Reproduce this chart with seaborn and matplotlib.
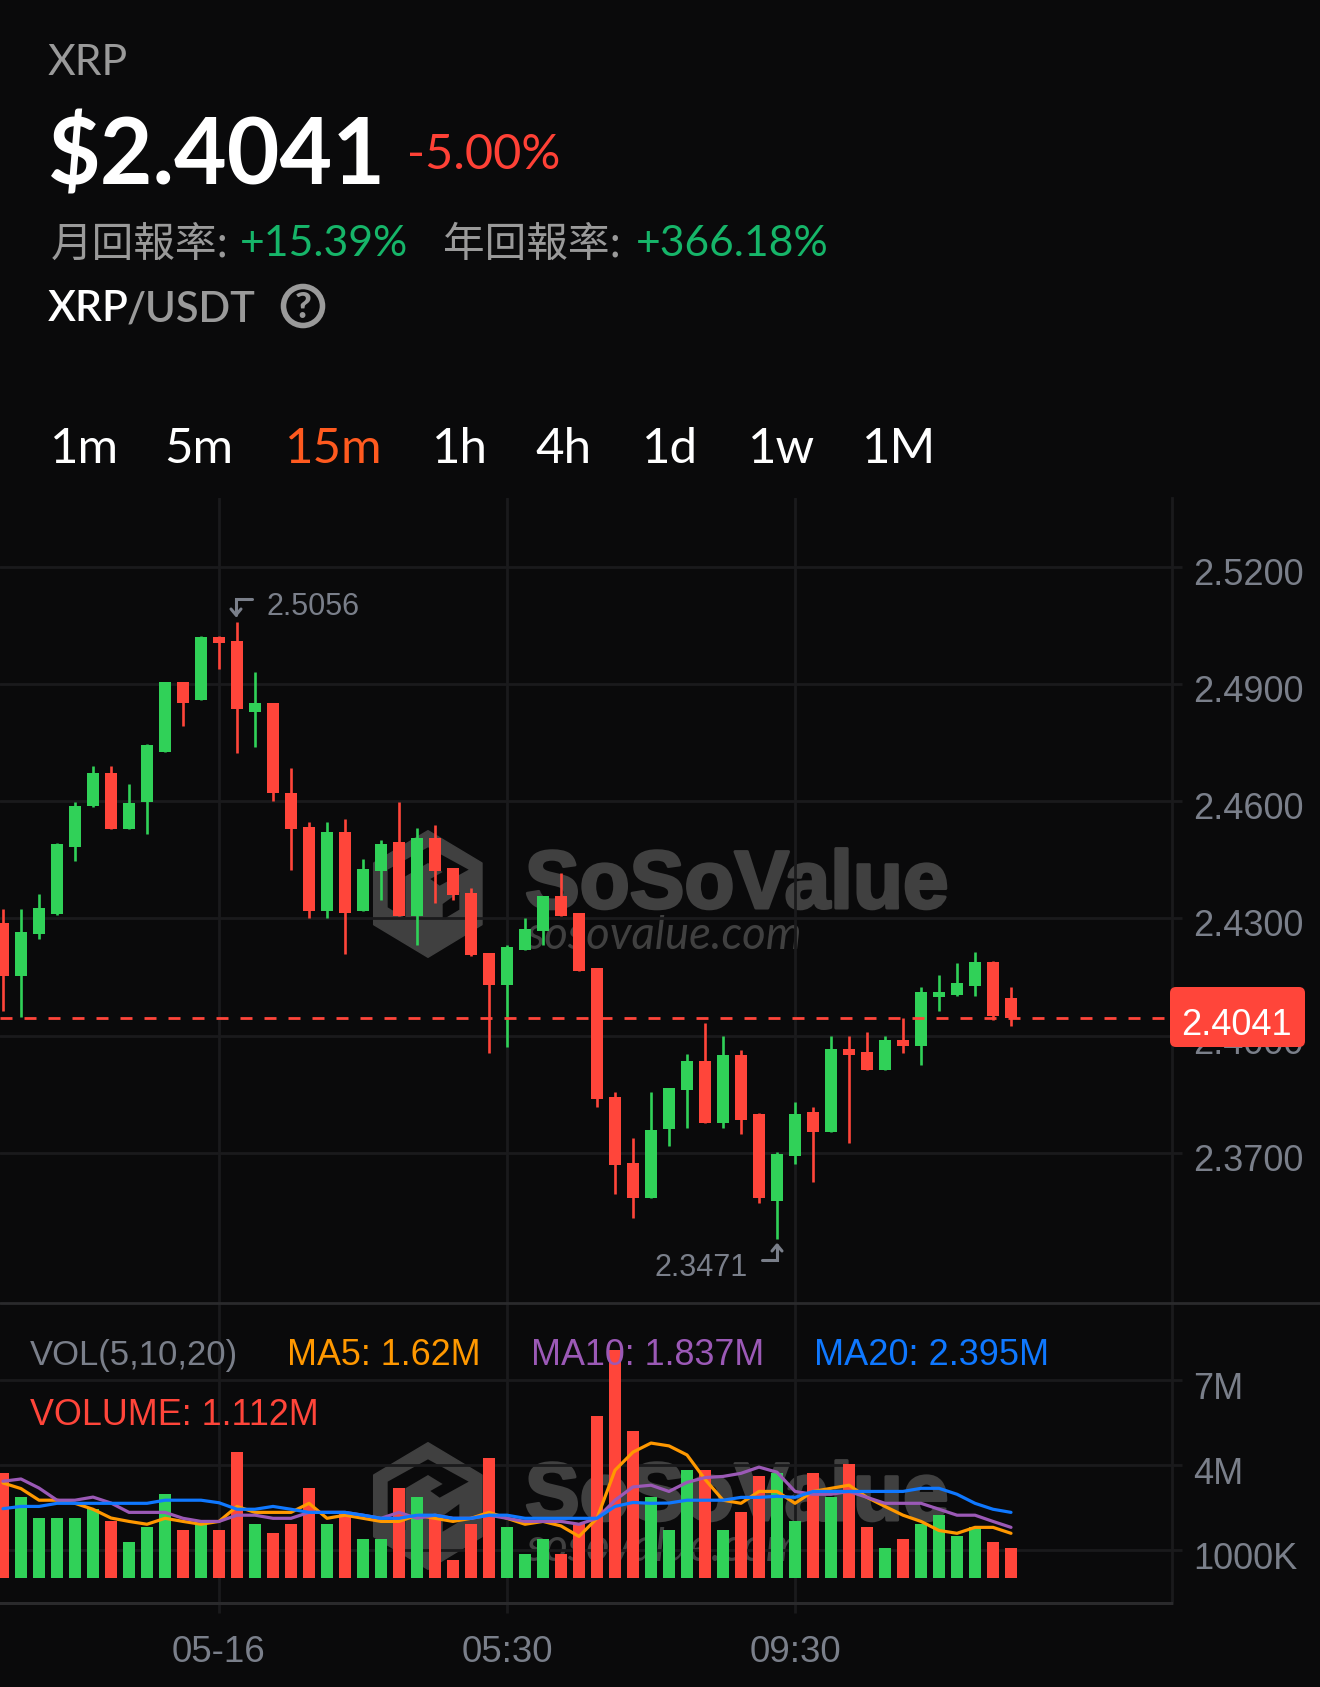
import numpy as np
import pandas as pd
import matplotlib
matplotlib.use("Agg")
import matplotlib.pyplot as plt
import matplotlib.patheffects as pe
import seaborn as sns
from matplotlib.lines import Line2D
from matplotlib.patches import Polygon, FancyBboxPatch, Circle
from matplotlib.transforms import ScaledTranslation

highs = [2.4323,2.4323,2.4361,2.4492,2.4599,2.4691,2.4691,2.4645,2.4745,2.4906,
         2.4906,2.5022,2.5022,2.5058,2.4930,2.4850,2.4684,2.4546,2.4546,2.4553,
         2.4453,2.4500,2.4599,2.4530,2.4538,2.4430,2.4377,2.4212,2.4231,2.4300,
         2.4358,2.4415,2.4313,2.4174,2.3855,2.3739,2.3855,2.3867,2.3954,2.4031,
         2.4000,2.3962,2.3801,2.3701,2.3831,2.3816,2.4000,2.4000,2.4008,2.4000,
         2.4046,2.4123,2.4154,2.4185,2.4215,2.4192,2.4123]
lows = [2.4064,2.4048,2.4248,2.4309,2.4447,2.4586,2.4528,2.4528,2.4517,2.4727,
        2.4793,2.4858,2.4939,2.4724,2.4739,2.4601,2.4424,2.4302,2.4302,2.4209,
        2.4318,2.4348,2.4305,2.4232,2.4340,2.4348,2.4203,2.3956,2.3971,2.4218,
        2.4232,2.4305,2.4164,2.3818,2.3595,2.3534,2.3583,2.3718,2.3764,2.3775,
        2.3764,2.3749,2.3572,2.3478,2.3672,2.3626,2.3752,2.3726,2.3913,2.3911,
        2.3955,2.3924,2.4063,2.4102,2.4102,2.4041,2.4024]
opens = [2.4289,2.4152,2.4259,2.4312,2.4482,2.4588,2.4673,2.4528,2.4597,2.4727,
         2.4904,2.4858,2.5019,2.5011,2.4827,2.4850,2.4620,2.4535,2.4320,2.4520,
         2.4320,2.4420,2.4496,2.4305,2.4505,2.4428,2.4366,2.4212,2.4129,2.4220,
         2.4267,2.4358,2.4313,2.4174,2.3843,2.3674,2.3583,2.3760,2.3860,2.3936,
         2.3775,2.3951,2.3798,2.3576,2.3691,2.3805,2.3752,2.3966,2.3959,2.3913,
         2.3989,2.3974,2.4098,2.4104,2.4128,2.4189,2.4097]
closes = [2.4152,2.4266,2.4327,2.4489,2.4588,2.4673,2.4528,2.4596,2.4743,2.4904,
          2.4850,2.5019,2.5004,2.4835,2.4850,2.4620,2.4528,2.4320,2.4520,2.4313,
          2.4427,2.4489,2.4305,2.4505,2.4420,2.4359,2.4205,2.4129,2.4227,2.4273,
          2.4358,2.4305,2.4166,2.3837,2.3668,2.3583,2.3759,2.3867,2.3936,2.3775,
          2.3951,2.3783,2.3583,2.3698,2.3798,2.3752,2.3966,2.3951,2.3913,2.3989,
          2.3974,2.4112,2.4112,2.4135,2.4189,2.4051,2.4044]
volumes = [3.70,2.85,2.11,2.11,2.11,2.43,2.00,1.26,1.79,2.96,
           1.68,1.90,1.68,4.44,1.90,1.58,1.90,3.17,1.90,2.32,
           1.37,1.37,3.17,2.85,2.11,0.62,1.90,4.23,1.79,0.84,
           1.37,0.84,1.90,5.71,8.05,5.18,2.85,1.68,3.81,3.81,
           1.68,2.32,3.59,3.70,2.00,3.70,2.85,4.02,1.79,1.05,
           1.37,1.90,2.22,1.47,1.79,1.26,1.05]
ma5 = [3.36,3.16,2.75,2.75,2.64,2.43,2.12,2.00,1.90,2.11,
       2.00,1.90,2.00,2.53,2.32,2.32,2.32,2.64,2.11,2.22,
       2.11,2.00,2.00,2.22,2.11,2.00,2.11,2.32,2.11,1.90,
       2.00,1.84,1.47,2.11,3.81,4.45,4.77,4.67,4.35,3.49,
       2.75,2.64,3.06,3.06,2.64,3.06,3.17,3.28,2.85,2.53,
       2.22,2.00,1.68,1.58,1.79,1.79,1.58]
ma10 = [3.42,3.50,3.18,2.75,2.75,2.86,2.65,2.32,2.32,2.32,
        2.11,2.00,2.00,2.22,2.22,2.11,2.11,2.32,2.32,2.32,
        2.22,2.11,2.32,2.11,2.22,2.11,2.11,2.22,2.11,2.00,
        2.00,2.00,1.90,2.11,2.75,3.22,3.28,3.06,3.38,3.55,
        3.59,3.70,3.92,3.74,3.06,2.96,2.96,3.06,2.85,2.64,
        2.64,2.64,2.43,2.22,2.22,2.00,1.79]
ma20 = [2.45,2.53,2.53,2.64,2.64,2.64,2.64,2.64,2.64,2.75,
        2.75,2.75,2.66,2.43,2.43,2.53,2.43,2.32,2.32,2.32,
        2.22,2.11,2.11,2.22,2.22,2.11,2.11,2.22,2.22,2.11,
        2.11,2.11,2.11,2.11,2.53,2.67,2.64,2.65,2.75,2.75,
        2.75,2.85,2.85,2.89,2.85,3.06,3.06,3.06,3.06,3.06,
        3.06,3.17,3.17,2.96,2.64,2.43,2.32]
price_ticks = [2.52, 2.49, 2.46, 2.43, 2.40, 2.37]
price_tick_labels = ["2.5200", "2.4900", "2.4600", "2.4300", "2.4000", "2.3700"]
vol_ticks = [1, 4, 7]
vol_tick_labels = ["1000K", "4M", "7M"]
time_ticks = [12, 28, 44]
time_tick_labels = ["05-16", "05:30", "09:30"]
intervals = ["1m", "5m", "15m", "1h", "4h", "1d", "1w", "1M"]
last_line = 2.4046

W, H = 1320, 1687
BG = "#0a0a0b"
GRID = "#1a1a1c"
AXIS = "#2a2a2c"
GRAY = "#7a7f8a"
HEAD = "#9a9a9a"
RED = "#ff453a"
GREEN = "#30d158"
ORANGE = "#ff9800"
PURPLE = "#9b59b6"
BLUE = "#0f78ff"
WM = "#404040"

sns.set_theme(style="dark", rc={"axes.facecolor": BG, "figure.facecolor": BG,
                                "savefig.facecolor": BG})
plt.rcParams["font.family"] = ["Liberation Sans", "DejaVu Sans"]

def X(x): return x / W
def Y(y): return 1 - y / H

fig = plt.figure(figsize=(W / 100, H / 100), dpi=100)
ax = fig.add_axes([0, Y(1303), 1171.5 / W, (1303 - 498) / H])
vx = fig.add_axes([0, Y(1603), 1171.5 / W, (1603 - 1303) / H])

df = pd.DataFrame({"i": np.arange(len(opens)), "open": opens, "high": highs, "low": lows,
                   "close": closes, "volume": volumes, "ma5": ma5, "ma10": ma10, "ma20": ma20})
df["dir"] = np.where(df["close"] >= df["open"], "up", "down")
palette = {"up": GREEN, "down": RED}

# price panel: candles
for d, g in df.groupby("dir"):
    c = palette[d]
    ax.vlines(g["i"], g["low"], g["high"], color=c, lw=1.9, zorder=3)
    ax.bar(g["i"], (g["open"] - g["close"]).abs(), bottom=g[["open", "close"]].min(axis=1),
           width=12 / 18, color=c, linewidth=0, zorder=3)
ax.axhline(last_line, color=RED, lw=2.0, dashes=(4.32, 4.32), zorder=4)

# volume panel
sns.barplot(data=df, x="i", y="volume", hue="dir", palette=palette, native_scale=True,
            dodge=False, width=12 / 18, saturation=1, legend=False, ax=vx, zorder=3, linewidth=0)
for col, c in [("ma5", ORANGE), ("ma10", PURPLE), ("ma20", BLUE)]:
    sns.lineplot(data=df, x="i", y=col, color=c, linewidth=2.3, ax=vx, zorder=4, errorbar=None)

XLIM = (-3 / 18, (1171.5 - 3) / 18)
ax.set_xlim(*XLIM)
ax.set_ylim(2.52 - (1303 - 566.7) / 3907, 2.52 + (566.7 - 498) / 3907)
vx.set_xlim(*XLIM)
vx.set_ylim(-(1603 - 1578) / 28.29, (1578 - 1303) / 28.29)

for a, ticks, labels, offs in [(ax, price_ticks, price_tick_labels, 4.5),
                               (vx, vol_ticks, vol_tick_labels, 5.5)]:
    a.yaxis.tick_right()
    a.set_yticks(ticks, labels)
    a.set_xticks(time_ticks)
    a.set_xlabel(""); a.set_ylabel("")
    a.set_axisbelow(True)
    a.grid(True, color=GRID, lw=2, zorder=1)
    a.tick_params(axis="y", which="major", length=7.2, width=2, color=GRID, pad=8.3,
                  labelsize=26, labelcolor=GRAY, right=True, left=False)
    for s in ("top", "left", "bottom"):
        a.spines[s].set_visible(False)
    a.spines["right"].set_visible(True)
    a.spines["right"].set_color(GRID)
    a.spines["right"].set_linewidth(2)
    off = ScaledTranslation(0, -offs / 100, fig.dpi_scale_trans)
    for lab in a.get_yticklabels():
        lab.set_transform(lab.get_transform() + off)

ax.tick_params(axis="x", length=0, labelbottom=False, bottom=False)
vx.set_xticks(time_ticks, time_tick_labels)
vx.tick_params(axis="x", length=7.2, width=2, color=GRID, pad=16, labelsize=26.5,
               labelcolor=GRAY, bottom=True)
vx.spines["bottom"].set_visible(True)
vx.spines["bottom"].set_color(AXIS)
vx.spines["bottom"].set_linewidth(2.2)

# separators
fig.add_artist(Line2D([0, 1], [Y(1303), Y(1303)], color=AXIS, lw=2, transform=fig.transFigure))

# watermark
LOGO_OUT = [(203, 38), (365, 135), (365, 320), (203, 418), (40, 320), (40, 135)]
LOGO_A = [(203, 88), (325, 155), (238, 203), (210, 183), (247, 162), (203, 135), (135, 175),
          (135, 300), (82, 268), (82, 155)]
LOGO_B = [(297, 222), (297, 275), (247, 305), (247, 258)]
def logo(a, cx, cy):
    def pts(p):
        return [(X(cx + (u - 203) / 3), Y(cy + (v - 228) / 3)) for u, v in p]
    a.add_patch(Polygon(pts(LOGO_OUT), closed=True, fc=WM, ec=WM, lw=1, joinstyle="round",
                        transform=fig.transFigure, zorder=0.2, clip_on=False))
    for p in (LOGO_A, LOGO_B):
        a.add_patch(Polygon(pts(p), closed=True, fc=BG, ec="none",
                            transform=fig.transFigure, zorder=0.25, clip_on=False))
for a, dy in ((ax, 0), (vx, 612)):
    logo(a, 428, 894 + dy)
    a.text(X(525), Y(908 + dy), "SoSoValue", transform=fig.transFigure, color=WM, fontsize=59,
           fontweight="bold", family="Liberation Sans", va="baseline", ha="left", zorder=0.3,
           clip_on=False, path_effects=[pe.withStroke(linewidth=2.2, foreground=WM)])
    a.text(X(526), Y(949 + dy), "sosovalue.com", transform=fig.transFigure, color=WM, fontsize=32.8,
           style="italic", family="Lato", va="baseline", ha="left", zorder=0.3, clip_on=False)

# hi / lo annotations
ax.annotate("2.5056", xy=(13, 2.5058), xytext=(267, Y(607) * H), textcoords="figure pixels",
            color=GRAY, fontsize=22, va="center", ha="left", zorder=5)
ax.annotate("2.3471", xy=(43, 2.3478), xytext=(654, Y(1268) * H), textcoords="figure pixels",
            color=GRAY, fontsize=22, va="center", ha="left", zorder=5)
def icon(xs, ys, head):
    fig.add_artist(Line2D([X(v) for v in xs], [Y(v) for v in ys], color=GRAY, lw=2.2,
                          transform=fig.transFigure, solid_joinstyle="miter"))
    fig.add_artist(Line2D([X(v) for v in head[0]], [Y(v) for v in head[1]], color=GRAY, lw=2.2,
                          transform=fig.transFigure))
icon([252, 236, 236], [599, 599, 615], ([231, 236, 241], [609, 615, 609]))
icon([762, 777, 777], [1260, 1260, 1245], ([772, 777, 782], [1251, 1245, 1251]))

# price tag
fig.add_artist(FancyBboxPatch((1176, H - 1041), 123, 48, boxstyle="round,pad=6,rounding_size=6",
                              fc=RED, ec="none", transform=None, zorder=5))
fig.text(X(1236), Y(1035), "2.4041", color="white", fontsize=26, ha="center", va="baseline", zorder=6)

# volume legend
fig.text(X(30), Y(1365), "VOL(5,10,20)", color=GRAY, fontsize=24.9, zorder=6)
fig.text(X(287), Y(1365), "MA5: 1.62M", color=ORANGE, fontsize=25.8, zorder=6)
fig.text(X(531), Y(1365), "MA10: 1.837M", color=PURPLE, fontsize=25.8, zorder=6)
fig.text(X(814), Y(1365), "MA20: 2.395M", color=BLUE, fontsize=26, zorder=6)
fig.text(X(30), Y(1425), "VOLUME: 1.112M", color=RED, fontsize=25.8, zorder=6)

# header
LT = "Lato"
CJK = ["Noto Sans CJK TC", "DejaVu Sans"]
fig.text(X(48), Y(75), "XRP", color=HEAD, fontsize=30.8, family=LT)
fig.text(X(48), Y(185), "$2.4041", color="white", fontsize=65.5, family=LT, fontweight="bold")
fig.text(X(407), Y(169), "-5.00%", color="#ff4136", fontsize=35, family=LT)
fig.text(X(51), Y(257), "月回報率:", color=HEAD, fontsize=30, family=CJK)
fig.text(X(240), Y(256), "+15.39%", color="#16b569", fontsize=30.8, family=LT)
fig.text(X(443), Y(257), "年回報率:", color=HEAD, fontsize=30, family=CJK)
fig.text(X(636), Y(256), "+366.18%", color="#16b569", fontsize=30.7, family=LT)
fig.text(X(48), Y(321), "XRP", color="white", fontsize=30.5, family=LT, fontweight="semibold")
fig.text(X(127), Y(321), "/USDT", color=HEAD, fontsize=30, family=LT, fontweight="semibold")
fig.add_artist(Circle((303, H - 306), 19.5, fc="none", ec=HEAD, lw=4, transform=None))
fig.text(X(303), Y(307), "?", color=HEAD, fontsize=26, family=LT, fontweight="black", ha="center", va="center")

xs = [50, 164, 285, 432, 535, 642, 748, 862]
for lab, x in zip(intervals, xs):
    fig.text(X(x), Y(463), lab, color="#ff5a1f" if lab == "15m" else "white", fontsize=35.5, family=LT)

fig.savefig("out.png", dpi=100, facecolor=BG)
